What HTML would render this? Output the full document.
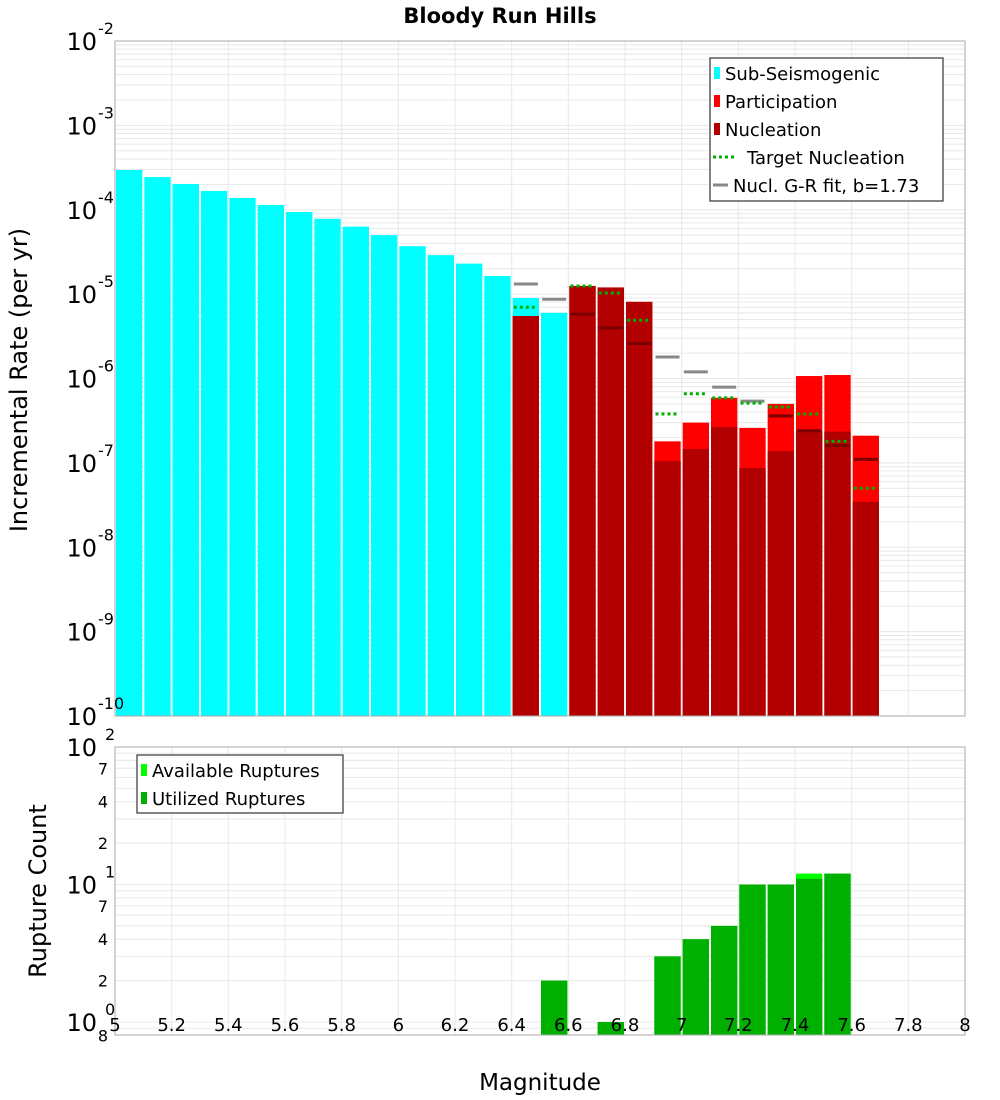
<!DOCTYPE html>
<html><head><meta charset="utf-8"><style>
body{margin:0;background:#fff;}
svg{display:block;font-family:"DejaVu Sans","Liberation Sans",sans-serif;}
</style></head><body>
<svg id="chart" width="1000" height="1100" xmlns="http://www.w3.org/2000/svg">
<text x="500" y="23" text-anchor="middle" font-size="21" font-weight="bold">Bloody Run Hills</text>
<g id="top"></g>
<g id="bot"></g>
<text transform="translate(27,380) rotate(-90)" text-anchor="middle" font-size="24">Incremental Rate (per yr)</text>
<text transform="translate(46,891) rotate(-90)" text-anchor="middle" font-size="24">Rupture Count</text>
<text x="540" y="1090" text-anchor="middle" font-size="23">Magnitude</text>
</svg>
<script>
const subMags=[5.05,5.15,5.25,5.35,5.45,5.55,5.65,5.75,5.85,5.95,6.05,6.15,6.25,6.35,6.45,6.55];
const subRates=[2.96e-4,2.44e-4,2.02e-4,1.67e-4,1.38e-4,1.14e-4,9.4e-5,7.8e-5,6.3e-5,5.0e-5,3.7e-5,2.9e-5,2.3e-5,1.64e-5,9.0e-6,6.0e-6];
const supMags=[6.45,6.65,6.75,6.85,6.95,7.05,7.15,7.25,7.35,7.45,7.55,7.65];
const partRates=[5.5e-6,1.25e-5,1.2e-5,8.1e-6,1.8e-7,3.0e-7,5.9e-7,2.6e-7,5.0e-7,1.07e-6,1.1e-6,2.1e-7];
const nuclRates=[5.5e-6,1.25e-5,1.2e-5,8.1e-6,1.05e-7,1.46e-7,2.66e-7,8.7e-8,1.38e-7,2.4e-7,2.35e-7,3.45e-8];
const targetRates=[7.0e-6,1.25e-5,1.03e-5,4.9e-6,3.8e-7,6.6e-7,5.9e-7,5.1e-7,4.6e-7,3.8e-7,1.8e-7,5.0e-8];
const grMags=[6.45,6.55,6.65,6.75,6.85,6.95,7.05,7.15,7.25,7.35,7.45,7.55,7.65];
const grRates=[1.32e-5,8.7e-6,5.8e-6,3.98e-6,2.6e-6,1.8e-6,1.2e-6,7.9e-7,5.4e-7,3.6e-7,2.4e-7,1.6e-7,1.1e-7];
const cntMags=[6.55,6.75,6.95,7.05,7.15,7.25,7.35,7.45,7.55];
const availCounts=[2,1,3,4,5,10,10,12,12];
const usedCounts=[2,1,3,4,5,10,10,11,12];
const xTicks=[5,5.2,5.4,5.6,5.8,6,6.2,6.4,6.6,6.8,7,7.2,7.4,7.6,7.8,8];
const topExps=[-2,-3,-4,-5,-6,-7,-8,-9,-10];
const botTicks=[[100,'10','2'],[70,'7',''],[40,'4',''],[20,'2',''],[10,'10','1'],[7,'7',''],[4,'4',''],[2,'2',''],[1,'10','0'],[0.8,'8','']];

const NS='http://www.w3.org/2000/svg';
const X0=115,X1=965,TY0=41,TY1=716,BY0=747,BY1=1035;
const xs=m=>X0+(m-5)/3*(X1-X0);
const ty=v=>TY0+(-2-Math.log10(v))*(TY1-TY0)/8;
const by=v=>BY0+(2-Math.log10(v))*137.5;
function mk(p,tag,a){const e=document.createElementNS(NS,tag);for(const k in a)e.setAttribute(k,a[k]);p.appendChild(e);return e;}
const topG=document.getElementById('top'),botG=document.getElementById('bot');

function panel(g,y0,y1,hl){
  const bg=mk(g,'rect',{x:X0,y:y0,width:X1-X0,height:y1-y0,fill:'#fff'});
  
  
  hl.forEach(y=>{if(y>y0&&y<y1){const l=mk(g,'line',{x1:X0,x2:X1,y1:y,y2:y,stroke:'#e8e8e8','stroke-width':1});
    
    }});
  xTicks.forEach(t=>{const x=xs(t);if(x>X0+1&&x<X1-1){const l=mk(g,'line',{x1:x,x2:x,y1:y0,y2:y1,stroke:'#e8e8e8','stroke-width':1});
    
    }});
}
let th=[];for(let e=-10;e<-2;e++)for(let k=1;k<10;k++)th.push(ty(k*Math.pow(10,e)));
panel(topG,TY0,TY1,th);
let bh=[];[0.8,0.9].forEach(v=>bh.push(by(v)));for(let e=0;e<2;e++)for(let k=1;k<10;k++)bh.push(by(k*Math.pow(10,e)));
panel(botG,BY0,BY1,bh);

const bw=(X1-X0)/30;
function bar(g,m,v,base,fill,name){const x=xs(m)-bw/2+1,y=v;const r=mk(g,'rect',{x:x,y:y,width:bw-2,height:Math.max(0,base-y),fill:fill});
  
  return r;}
subMags.forEach((m,i)=>bar(topG,m,ty(subRates[i]),TY1,'#00ffff','bar-sub-seismogenic'));
supMags.forEach((m,i)=>{bar(topG,m,ty(partRates[i]),TY1,'#ff0000','bar-participation');bar(topG,m,ty(nuclRates[i]),TY1,'#b20000','bar-nucleation');});
grMags.forEach((m,i)=>{const y=ty(grRates[i]);const j=supMags.indexOf(m);const inside=j>=0&&grRates[i]<partRates[j];
  const l=mk(topG,'line',{x1:xs(m)-12,x2:xs(m)+12,y1:y,y2:y,stroke:inside?'#7a0000':'#888','stroke-width':3});
  
  });
supMags.forEach((m,i)=>{const y=ty(targetRates[i]);
  const l=mk(topG,'line',{x1:xs(m)-12,x2:xs(m)+12,y1:y,y2:y,stroke:'#00b000','stroke-width':3,'stroke-dasharray':'3,3'});
  
  });
cntMags.forEach((m,i)=>{bar(botG,m,by(availCounts[i]),BY1,'#00ff00','bar-available');bar(botG,m,by(usedCounts[i]),BY1,'#00b000','bar-utilized');});

[topG,botG].forEach((g,k)=>{const f=mk(g,'rect',{x:X0,y:k?BY0:TY0,width:X1-X0,height:(k?BY1-BY0:TY1-TY0),fill:'none',stroke:'#aaa','stroke-width':1});
  
  });

function txt(g,x,y,s,size,anchor,name){const t=mk(g,'text',{x:x,y:y,'font-size':size,'text-anchor':anchor||'start'});t.textContent=s;
  
  return t;}
xTicks.forEach(t=>txt(botG,xs(t),1031,String(t),18,'middle','x-tick-label'));
topExps.forEach(e=>{const y=ty(Math.pow(10,e));txt(topG,97,y+9,'10',24,'end','y-tick-label');txt(topG,98,y-7,String(e),16,'start','y-tick-exponent');});
botTicks.forEach(([v,b,e])=>{const y=by(v);
  if(e){txt(botG,97,y+9,b,24,'end','y-tick-label');txt(botG,105,y-7,e,16,'start','y-tick-exponent');}
  else txt(botG,108,y+6,b,16,'end','y-tick-minor-label');});

function legend(g,x,y,w,h,items){const b=mk(g,'rect',{x:x,y:y,width:w,height:h,fill:'#fff',stroke:'#333','stroke-width':1.2});
  
  
  items.forEach((it,i)=>{const cy=y+15+i*28;
    if(it[2]==='sq'){const r=mk(g,'rect',{x:x+4,y:cy-6,width:6,height:12,fill:it[1]});}
    else{const l=mk(g,'line',{x1:x+3,x2:x+(it[2]==='dot'?26:18),y1:cy,y2:cy,stroke:it[1],'stroke-width':3});if(it[2]==='dot')l.setAttribute('stroke-dasharray','3,3');}
    const tx=it[2]==='dot'?x+37:(it[2]==='line'?x+23:x+15);
    txt(g,tx,cy+7,it[0],18,'start','legend-entry');});}
legend(topG,710,58,233,143,[['Sub-Seismogenic','#00ffff','sq'],['Participation','#ff0000','sq'],['Nucleation','#b20000','sq'],['Target Nucleation','#00b000','dot'],['Nucl. G-R fit, b=1.73','#888','line']]);
legend(botG,137,755,206,58,[['Available Ruptures','#00ff00','sq'],['Utilized Ruptures','#00b000','sq']]);
</script>
</body></html>
